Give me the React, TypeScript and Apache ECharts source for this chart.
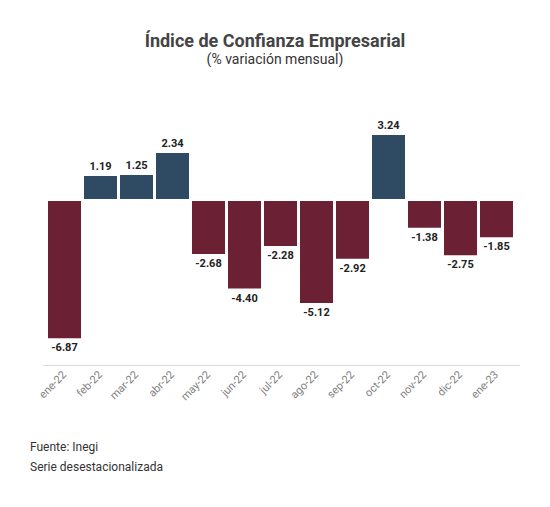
import React, { useEffect, useRef } from "react";
import * as echarts from "echarts";

const categories = ["ene-22", "feb-22", "mar-22", "abr-22", "may-22", "jun-22", "jul-22", "ago-22", "sep-22", "oct-22", "nov-22", "dic-22", "ene-23"];
const values = [-6.87, 1.19, 1.25, 2.34, -2.68, -4.4, -2.28, -5.12, -2.92, 3.24, -1.38, -2.75, -1.85];
const titleText = "Índice de Confianza Empresarial";
const subtitleText = "(% variación mensual)";
const footerLines = ["Fuente: Inegi", "Serie desestacionalizada"];

const POS = "#2f4b64";
const NEG = "#6b2033";

export default function App() {
  const ref = useRef<HTMLDivElement>(null);
  useEffect(() => {
    document.body.style.margin = "0";
    const chart = echarts.init(ref.current!, null, { renderer: "svg" });
    chart.setOption({
      animation: false,
      backgroundColor: "#ffffff",
      textStyle: { fontFamily: "Roboto" },
      title: {
        text: titleText,
        subtext: subtitleText,
        left: "center",
        top: 26,
        itemGap: 3,
        textStyle: { fontFamily: "Roboto", fontSize: 18, fontWeight: "bold", color: "#444444" },
        subtextStyle: { fontFamily: "Roboto", fontSize: 14, color: "#333333" },
      },
      grid: { left: 46.5, width: 468, top: 119.6, height: 246.4 },
      xAxis: {
        type: "category",
        data: categories,
        axisLine: { show: false },
        axisTick: { show: false },
        axisLabel: { rotate: 45, color: "#808080", fontSize: 11, margin: 7, interval: 0 },
      },
      yAxis: {
        type: "value",
        min: -8.25,
        max: 4,
        show: false,
        splitLine: { show: false },
      },
      series: [
        {
          type: "bar",
          barWidth: 33,
          data: values.map((v) => ({
            value: v,
            itemStyle: { color: v >= 0 ? POS : NEG },
            label: { position: v >= 0 ? "top" : "bottom" },
          })),
          label: {
            show: true,
            fontSize: 11,
            fontWeight: "bold",
            color: "#222222",
            distance: 4,
            formatter: (p: any) => p.value.toFixed(2),
          },
          markLine: {
            silent: true,
            symbol: "none",
            label: { show: false },
            lineStyle: { color: "#ffffff", width: 2, type: "solid" },
            data: [{ yAxis: 0 }],
          },
        },
      ],
      graphic: [
        {
          type: "line",
          shape: { x1: 43, y1: 365.5, x2: 520, y2: 365.5 },
          style: { stroke: "#dddddd", lineWidth: 1 },
        },
        {
          type: "text",
          left: 30,
          top: 441,
          style: { text: footerLines[0], fontFamily: "Roboto", fontSize: 12, fill: "#333333" },
        },
        {
          type: "text",
          left: 30,
          top: 461,
          style: { text: footerLines[1], fontFamily: "Roboto", fontSize: 12, fill: "#333333" },
        },
      ],
    });
    return () => chart.dispose();
  }, []);
  return <div ref={ref} style={{ width: 550, height: 507 }} />;
}
